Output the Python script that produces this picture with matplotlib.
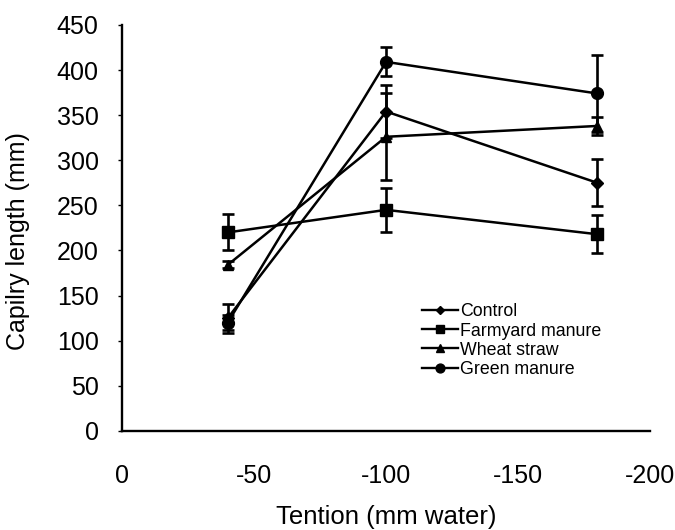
import matplotlib
matplotlib.use("Agg")
import matplotlib.pyplot as plt
from matplotlib.lines import Line2D

plt.rcParams['font.family'] = ['Liberation Sans', 'DejaVu Sans']

tension = [-40, -100, -180]
series = ["Control", "Farmyard manure", "Wheat straw", "Green manure"]
control = [125, 354, 275]
control_err = [16, 29, 26]
farmyard = [220, 245, 218]
farmyard_err = [20, 24, 21]
wheat = [184, 326, 338]
wheat_err = [4, 48, 10]
green = [120, 409, 374]
green_err = [8, 16, 43]

values = [control, farmyard, wheat, green]
errors = [control_err, farmyard_err, wheat_err, green_err]
markers = ['D', 's', '^', 'o']
msizes = [6, 8, 7.5, 8.5]

x_ticks = [0, -50, -100, -150, -200]
y_ticks = [0, 50, 100, 150, 200, 250, 300, 350, 400, 450]

fig = plt.figure(figsize=(6.75, 5.3), dpi=100)
ax = fig.add_axes([0.181, 0.187, 0.782, 0.766])

for name, v, e, m, ms in zip(series, values, errors, markers, msizes):
    ax.errorbar(tension, v, yerr=e, color='black', marker=m, markersize=ms,
                linewidth=1.8, elinewidth=1.9, capsize=4.5, capthick=1.9)

ax.set_xlim(0, -200)
ax.set_ylim(0, 450)
ax.set_xticks(x_ticks)
ax.set_xticklabels([str(t) for t in x_ticks])
ax.set_yticks(y_ticks)
ax.tick_params(axis='x', length=0, pad=24, labelsize=18)
ax.tick_params(axis='y', length=3, width=1, direction='out', pad=14, labelsize=18)
for s in ['top', 'right']:
    ax.spines[s].set_visible(False)
for s in ['left', 'bottom']:
    ax.spines[s].set_linewidth(1.7)

ax.set_xlabel("Tention (mm water)", fontsize=18.5, labelpad=12)
ax.set_ylabel("Capilry length (mm)", fontsize=18)
ax.yaxis.set_label_coords(-0.174, 0.468)

handles = [Line2D([], [], color='black', marker=m, markersize=ms * 0.75,
                  linewidth=1.7) for m, ms in zip(markers, msizes)]
leg = ax.legend(handles, series, loc='upper left', bbox_to_anchor=(0.5615, 0.3227),
                frameon=False, fontsize=12.8, handlelength=2.0,
                handletextpad=0.15, labelspacing=0.12, borderpad=0.2,
                borderaxespad=0)

fig.savefig("out.png", dpi=100)
